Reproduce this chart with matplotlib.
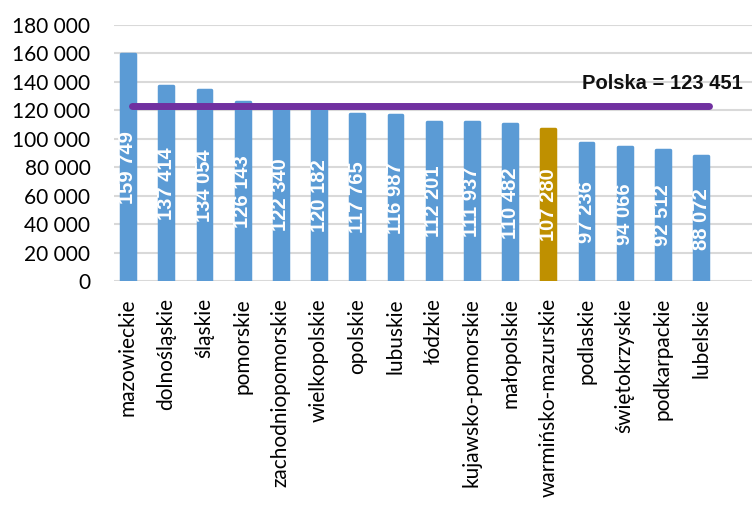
import matplotlib.pyplot as plt
from matplotlib.transforms import ScaledTranslation

# data
regions = ['mazowieckie', 'dolnośląskie', 'śląskie', 'pomorskie', 'zachodniopomorskie',
           'wielkopolskie', 'opolskie', 'lubuskie', 'łódzkie', 'kujawsko-pomorskie',
           'małopolskie', 'warmińsko-mazurskie', 'podlaskie', 'świętokrzyskie',
           'podkarpackie', 'lubelskie']
values = [159749, 137414, 134054, 126143, 122340, 120182, 117765, 116987, 112201,
          111937, 110482, 107280, 97236, 94066, 92512, 88072]
highlight = 'warmińsko-mazurskie'
polska = 123451
yticks = list(range(0, 180001, 20000))

plt.rcParams['font.family'] = ['Lato', 'DejaVu Sans']
bold_font = ['Liberation Sans', 'DejaVu Sans']

blue = '#5B9BD5'
gold = '#BF9000'
purple = '#7030A0'

fig = plt.figure(figsize=(7.52, 5.07), dpi=100)
ax = fig.add_axes([0.1516, 0.4448, 0.8484, 0.5059])

x = list(range(len(regions)))
colors = [gold if r == highlight else blue for r in regions]
# thick edge in the fill colour with round joins gives the rounded Excel tops
ax.bar(x, values, width=0.36, color=colors, edgecolor=colors, linewidth=2.5,
       joinstyle='round', zorder=3)

for xi, v in zip(x, values):
    s = f'{v:,}'.replace(',', ' ')
    ax.text(xi, v / 2, s, rotation=90, ha='center', va='center', color='white',
            fontsize=14.5, fontweight='bold', family=bold_font, zorder=4)

ax.plot([x[0] + 0.1, x[-1] + 0.2], [polska, polska], color=purple, lw=5,
        solid_capstyle='round', zorder=5)
ax.text(16.08, 139000, 'Polska = ' + f'{polska:,}'.replace(',', ' '), ha='right',
        va='center', fontsize=14.5, fontweight='bold', family=bold_font, color='#111111')

ax.set_ylim(0, 180000)
ax.set_xlim(-0.366, 16.33)
ax.set_yticks(yticks)
ax.set_yticklabels([f'{t:,}'.replace(',', ' ') for t in yticks], fontsize=15)
ax.set_xticks(x)
ax.set_xticklabels(regions, rotation=90, fontsize=15, va='top', ha='center')
offset = ScaledTranslation(0.11, 0, fig.dpi_scale_trans)
for lab in ax.get_xticklabels():
    lab.set_transform(lab.get_transform() + offset)

ax.tick_params(axis='both', length=0)
ax.tick_params(axis='y', pad=17)
ax.tick_params(axis='x', pad=12)
ax.grid(axis='y', color='#D9D9D9', lw=1.5, zorder=0)
for sp in ax.spines.values():
    sp.set_visible(False)

fig.savefig('out.png', dpi=100)
